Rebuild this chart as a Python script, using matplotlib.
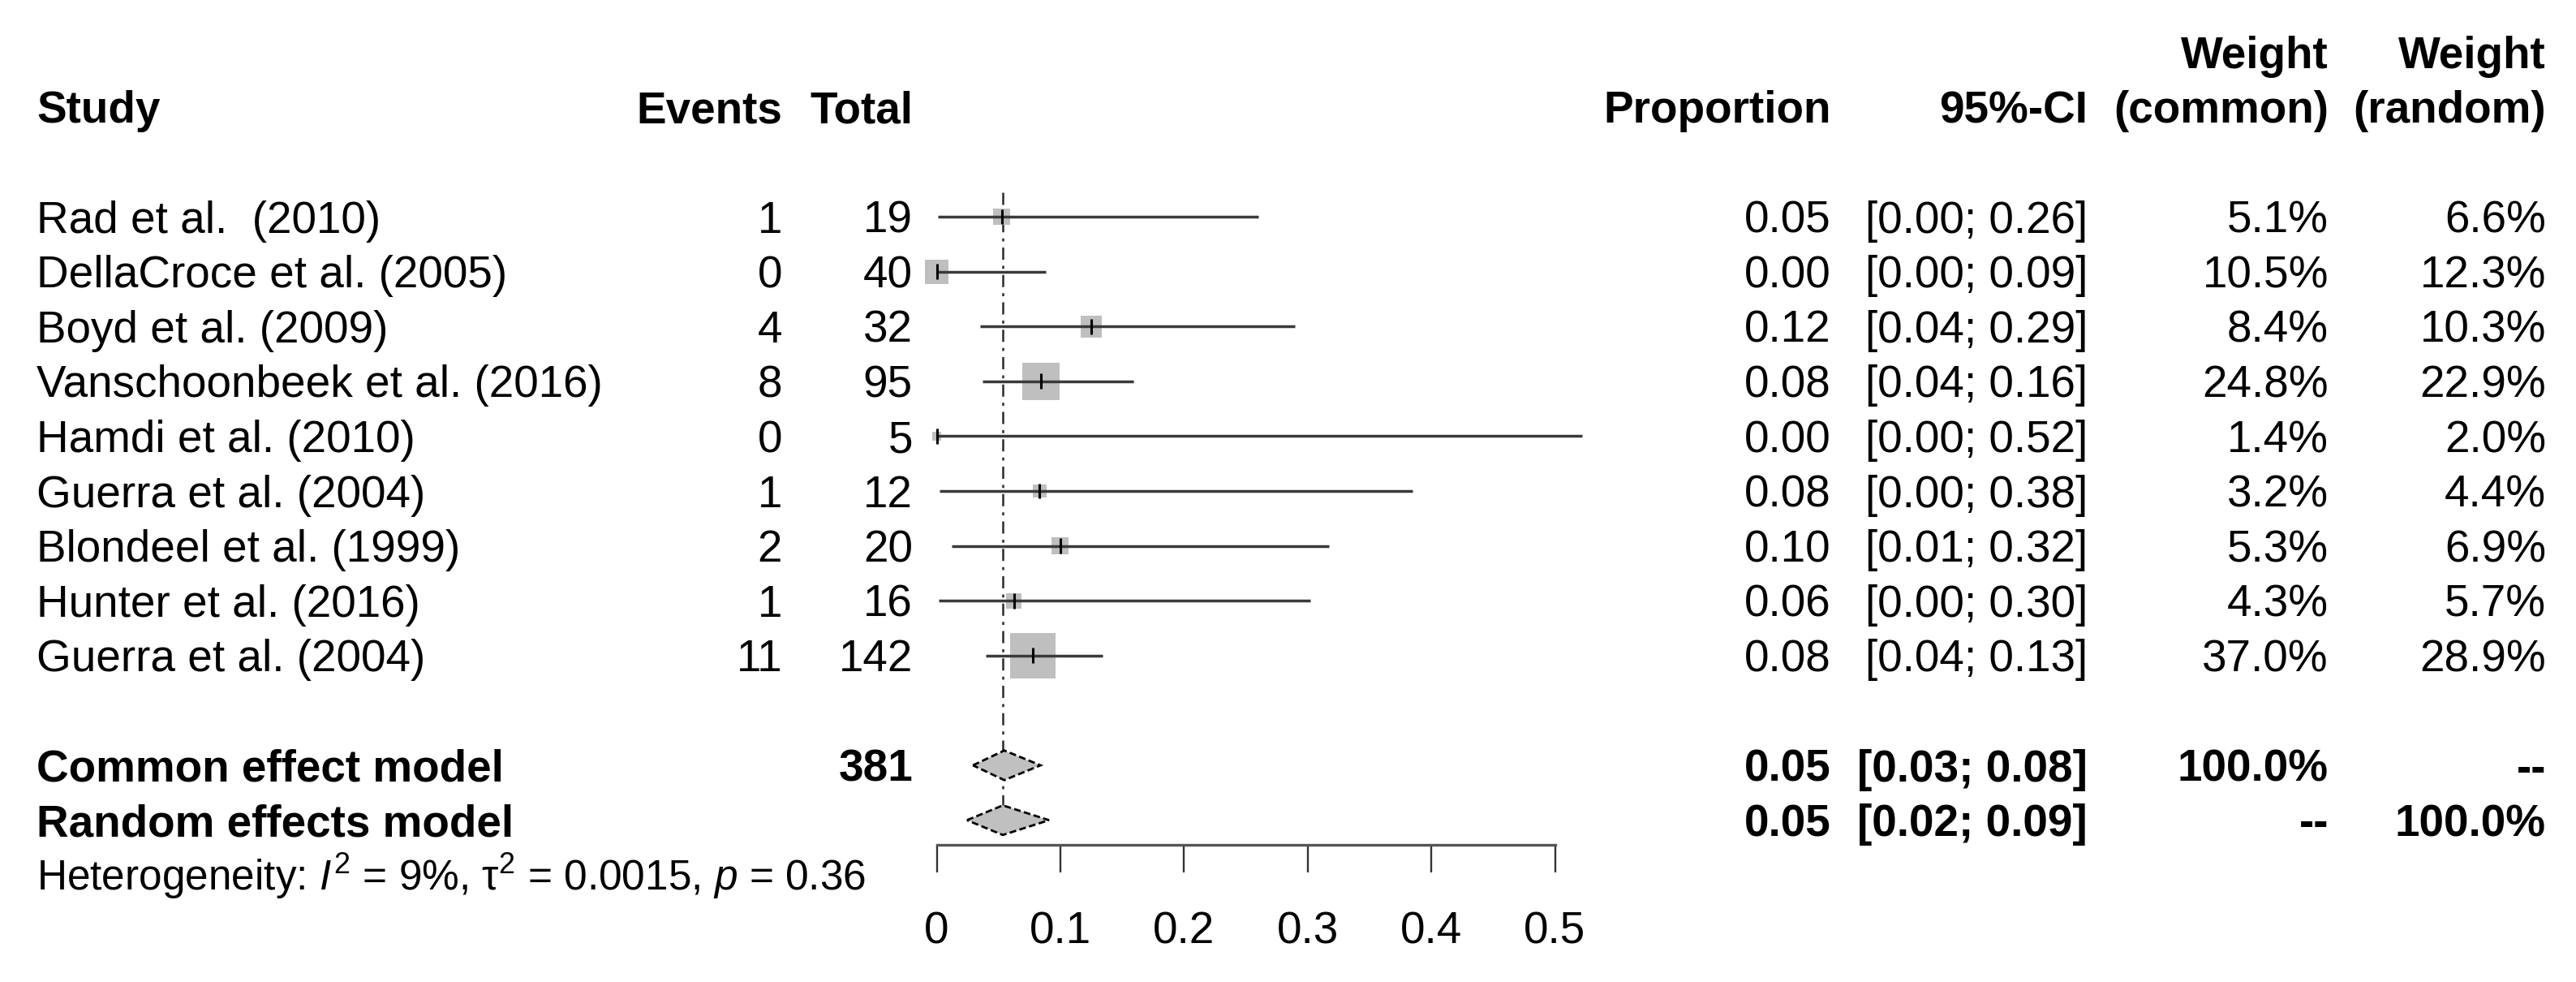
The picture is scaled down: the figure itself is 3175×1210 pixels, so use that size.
import numpy as np
import matplotlib
matplotlib.use("Agg")
import matplotlib.pyplot as plt
from matplotlib.patches import Rectangle, Polygon
from matplotlib.transforms import blended_transform_factory

# ---- data ----
studies = ["Rad et al.  (2010)", "DellaCroce et al. (2005)", "Boyd et al. (2009)",
           "Vanschoonbeek et al. (2016)", "Hamdi et al. (2010)", "Guerra et al. (2004)",
           "Blondeel et al. (1999)", "Hunter et al. (2016)", "Guerra et al. (2004)"]
events = [1, 0, 4, 8, 0, 1, 2, 1, 11]
totals = [19, 40, 32, 95, 5, 12, 20, 16, 142]
prop = [0.0526, 0.0, 0.125, 0.0842, 0.0, 0.0833, 0.100, 0.0625, 0.0775]
lower = [0.0013, 0.0, 0.0351, 0.0371, 0.0, 0.0021, 0.0123, 0.0016, 0.0394]
upper = [0.2603, 0.0881, 0.2899, 0.1592, 0.5218, 0.3848, 0.3170, 0.3023, 0.1342]
w_common = [5.1, 10.5, 8.4, 24.8, 1.4, 3.2, 5.3, 4.3, 37.0]
w_random = [6.6, 12.3, 10.3, 22.9, 2.0, 4.4, 6.9, 5.7, 28.9]

summary_labels = ["Common effect model", "Random effects model"]
summary_est = [0.0547, 0.0535]
summary_lo = [0.0293, 0.0245]
summary_hi = [0.0840, 0.0908]
summary_wc = ["100.0%", "--"]
summary_wr = ["--", "100.0%"]
het_label = r"Heterogeneity: $I^2$ = 9%, $\mathrm{\tau}^2$ = 0.0015, $p$ = 0.36"

xticks = [0, 0.1, 0.2, 0.3, 0.4, 0.5]
xticklabels = ["0", "0.1", "0.2", "0.3", "0.4", "0.5"]

# ---- layout (pixels of a 3175 x 1210 canvas) ----
W, H = 3175, 1210
ROW0, ROWH = 267, 67.6          # y of first study row, row height
X0, XSPAN = 1154.5, 762         # pixel of 0 and width of 0..0.5
AXIS_Y = 1041
FS, FS_SMALL = 39.5, 37

plt.rcParams['font.family'] = ['Liberation Sans', 'DejaVu Sans']
plt.rcParams['mathtext.fontset'] = 'custom'
plt.rcParams['mathtext.rm'] = 'Liberation Sans'
plt.rcParams['mathtext.it'] = 'Liberation Sans:italic'
plt.rcParams['mathtext.bf'] = 'Liberation Sans:bold'

fig = plt.figure(figsize=(W / 100, H / 100), dpi=100)
ax = fig.add_axes([X0 / W, (H - AXIS_Y) / H, XSPAN / W, AXIS_Y / H])
ax.set_xlim(0, 0.5)
ax.set_ylim((AXIS_Y - ROW0) / ROWH, -ROW0 / ROWH)
ax.patch.set_visible(False)
for s in ["top", "right", "left"]:
    ax.spines[s].set_visible(False)
ax.spines["bottom"].set_color("#555555")
ax.spines["bottom"].set_linewidth(2.4)
ax.set_yticks([])
ax.set_xticks(xticks)
ax.set_xticklabels(xticklabels, fontsize=FS)
ax.tick_params(axis="x", direction="out", length=24.5, width=1.7, color="#333333", pad=34)

px_x = 0.5 / XSPAN   # data units per pixel, x
px_y = 1.0 / ROWH    # rows per pixel

n = len(studies)
rows = np.arange(n)
sum_rows = [n + 1, n + 2]
het_row = n + 3

# reference line at the pooled estimate
ax.plot([summary_est[1], summary_est[1]], [-0.44, sum_rows[1] + 0.27], color="#2a2a2a",
        lw=1.8, ls=(0, (6, 3, 1.5, 3)), zorder=1, clip_on=False)

# squares sized by common-effect weight (area ~ weight)
wmax = max(w_common)
for r, p, w in zip(rows, prop, w_common):
    side = 56 * np.sqrt(w / wmax)
    ax.add_patch(Rectangle((p - side * px_x / 2, r - side * px_y / 2), side * px_x, side * px_y,
                           facecolor="#bfbfbf", edgecolor="none", zorder=2, clip_on=False))
ax.hlines(rows, lower, upper, color="#3a3a3a", lw=2.5, zorder=3, clip_on=False)
ax.vlines(prop, rows - 0.14, rows + 0.14, color="black", lw=2.2, zorder=4, clip_on=False)

# diamonds
for r, e, lo, hi in zip(sum_rows, summary_est, summary_lo, summary_hi):
    h = 0.27
    ax.add_patch(Polygon([(lo, r), (e, r - h), (hi, r), (e, r + h)], closed=True,
                         facecolor="#c0c0c0", edgecolor="black", lw=2.0, ls=(0, (3, 1.5)),
                         zorder=3, clip_on=False))

# ---- text columns ----
tr = blended_transform_factory(fig.transFigure, ax.transData)
off = 0.716 * FS * 100 / 72 / 2 * px_y
off_s = 0.716 * FS_SMALL * 100 / 72 / 2 * px_y

col = dict(study=45, events=964, total=1125, prop=2257, ci=2573, wc=2870, wr=3138)

def put(key, r, s, ha="right", bold=False, fs=FS, o=off):
    ax.text(col[key] / W, r + o, s, transform=tr, ha=ha, va="baseline", fontsize=fs,
            fontweight="bold" if bold else "normal")

put("wc", -3, "Weight", bold=True)
put("wr", -3, "Weight", bold=True)
put("study", -2, "Study", ha="left", bold=True)
put("events", -2, "Events", bold=True)
put("total", -2, "Total", bold=True)
put("prop", -2, "Proportion", bold=True)
put("ci", -2, "95%-CI", bold=True)
put("wc", -2, "(common)", bold=True)
put("wr", -2, "(random)", bold=True)

for r in rows:
    put("study", r, studies[r], ha="left")
    put("events", r, str(events[r]))
    put("total", r, str(totals[r]))
    put("prop", r, f"{prop[r]:.2f}")
    put("ci", r, f"[{lower[r]:.2f}; {upper[r]:.2f}]")
    put("wc", r, f"{w_common[r]:.1f}%")
    put("wr", r, f"{w_random[r]:.1f}%")

for i, r in enumerate(sum_rows):
    put("study", r, summary_labels[i], ha="left", bold=True)
    put("prop", r, f"{summary_est[i]:.2f}", bold=True)
    put("ci", r, f"[{summary_lo[i]:.2f}; {summary_hi[i]:.2f}]", bold=True)
    put("wc", r, summary_wc[i], bold=True)
    put("wr", r, summary_wr[i], bold=True)
put("total", sum_rows[0], str(sum(totals)), bold=True)
put("study", het_row, het_label, ha="left", fs=FS_SMALL, o=off_s)

fig.savefig("out.png", dpi=100, facecolor="white")
